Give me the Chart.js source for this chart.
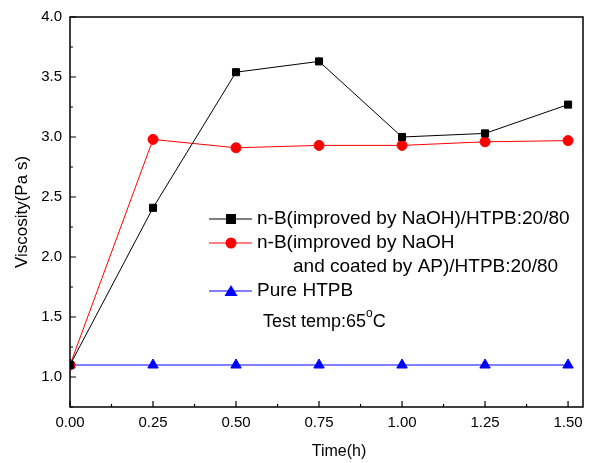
<!DOCTYPE html>
<html>
<head>
<meta charset="utf-8">
<script src="https://cdn.jsdelivr.net/npm/chart.js@4"></script>
<style>
  html, body { margin: 0; padding: 0; background: #fff; }
  #wrap { width: 599px; height: 463px; }
</style>
</head>
<body>
<div id="wrap"><canvas id="chart" width="599" height="463"></canvas></div>
<script>
// values
const timeH = [0, 0.25, 0.5, 0.75, 1.0, 1.25, 1.5];
const nbNaOH = [1.1, 2.41, 3.54, 3.63, 3.0, 3.03, 3.27];
const nbCoated = [1.1, 2.98, 2.91, 2.93, 2.93, 2.96, 2.97];
const pureHTPB = [1.1, 1.1, 1.1, 1.1, 1.1, 1.1, 1.1];
const xTicks = [0, 0.25, 0.5, 0.75, 1.0, 1.25, 1.5];
const yTicks = [1.0, 1.5, 2.0, 2.5, 3.0, 3.5, 4.0];

const FONT = "Arial, 'Liberation Sans', sans-serif";

function pts(ys) {
    return timeH.map((t, i) => ({ x: t, y: ys[i] }));
}

// frame, inward ticks and axis titles
const framePlugin = {
    id: 'frame',
    afterDraw(chart) {
        const ctx = chart.ctx;
        const a = chart.chartArea;
        const xs = chart.scales.x, ys = chart.scales.y;
        ctx.save();
        ctx.strokeStyle = '#000';
        ctx.lineWidth = 1.5;
        ctx.strokeRect(a.left, a.top, a.right - a.left, a.bottom - a.top);
        ctx.lineWidth = 1.2;
        ctx.beginPath();
        for (let v = 0; v <= 1.5001; v += 0.125) {
            const px = xs.getPixelForValue(v);
            const major = Math.abs(v / 0.25 - Math.round(v / 0.25)) < 1e-6;
            const len = major ? 6 : 3;
            ctx.moveTo(px, a.bottom); ctx.lineTo(px, a.bottom - len);
        }
        for (let v = 0.75; v <= 4.0001; v += 0.25) {
            const py = ys.getPixelForValue(v);
            const major = Math.abs(v / 0.5 - Math.round(v / 0.5)) < 1e-6;
            const len = major ? 6 : 3;
            ctx.moveTo(a.left, py); ctx.lineTo(a.left + len, py);
        }
        ctx.stroke();

        // axis titles
        ctx.fillStyle = '#000';
        ctx.textAlign = 'center';
        ctx.textBaseline = 'middle';
        ctx.font = '16px ' + FONT;
        ctx.fillText('Time(h)', 339, 452);
        ctx.translate(22, 212);
        ctx.rotate(-Math.PI / 2);
        ctx.font = '17px ' + FONT;
        ctx.fillText('Viscosity(Pa s)', 0, 0);
        ctx.restore();
    }
};

// legend block drawn inside the plot
const legendPlugin = {
    id: 'insideLegend',
    afterDraw(chart) {
        const ctx = chart.ctx;
        ctx.save();
        ctx.font = '19px ' + FONT;
        ctx.fillStyle = '#000';
        ctx.textBaseline = 'middle';
        const x0 = 209, x1 = 252, tx = 257;
        const rows = [
            { y: 219, color: '#000', shape: 'rect', text: 'n-B(improved by NaOH)/HTPB:20/80' },
            { y: 243, color: '#ff0000', shape: 'circle', text: 'n-B(improved by NaOH' },
            { y: 291, color: '#0000ff', shape: 'triangle', text: 'Pure HTPB' }
        ];
        rows.forEach(r => {
            ctx.strokeStyle = r.color;
            ctx.lineWidth = 1;
            ctx.beginPath();
            ctx.moveTo(x0, r.y); ctx.lineTo(x1, r.y);
            ctx.stroke();
            ctx.fillStyle = r.color;
            const cx = 231;
            ctx.beginPath();
            if (r.shape === 'rect') {
                ctx.rect(cx - 5, r.y - 5, 10, 10);
            } else if (r.shape === 'circle') {
                ctx.arc(cx, r.y, 5.5, 0, Math.PI * 2);
            } else {
                ctx.moveTo(cx, r.y - 6);
                ctx.lineTo(cx + 6.5, r.y + 5);
                ctx.lineTo(cx - 6.5, r.y + 5);
                ctx.closePath();
            }
            ctx.fill();
            ctx.fillStyle = '#000';
            ctx.fillText(r.text, tx, r.y);
        });
        ctx.fillText('and coated by AP)/HTPB:20/80', 293, 267);
        // Test temp:65 oC with superscript
        let x = 263;
        const ty = 322;
        ctx.font = '18px ' + FONT;
        ctx.fillText('Test temp:65', x, ty);
        x += ctx.measureText('Test temp:65').width;
        ctx.font = '12px ' + FONT;
        ctx.fillText('o', x, ty - 8);
        x += ctx.measureText('o').width;
        ctx.font = '18px ' + FONT;
        ctx.fillText('C', x, ty);
        ctx.restore();
    }
};

new Chart(document.getElementById('chart'), {
    type: 'scatter',
    data: {
        datasets: [
            {
                label: 'n-B(improved by NaOH)/HTPB:20/80',
                data: pts(nbNaOH),
                showLine: true,
                borderColor: '#000',
                backgroundColor: '#000',
                borderWidth: 1,
                pointStyle: 'rect',
                pointRadius: 5,
                pointHoverRadius: 5
            },
            {
                label: 'n-B(improved by NaOH and coated by AP)/HTPB:20/80',
                data: pts(nbCoated),
                showLine: true,
                borderColor: '#ff0000',
                backgroundColor: '#ff0000',
                borderWidth: 1,
                pointStyle: 'circle',
                pointRadius: 5,
                pointHoverRadius: 5
            },
            {
                label: 'Pure HTPB',
                data: pts(pureHTPB),
                showLine: true,
                borderColor: '#0000ff',
                backgroundColor: '#0000ff',
                borderWidth: 1,
                pointStyle: 'triangle',
                pointRadius: 6,
                pointHoverRadius: 6
            }
        ]
    },
    options: {
        responsive: false,
        animation: false,
        layout: { padding: { left: 0, right: 16, top: 17, bottom: 0 } },
        plugins: {
            legend: { display: false },
            tooltip: { enabled: false }
        },
        scales: {
            x: {
                type: 'linear',
                min: 0,
                max: 1.545,
                afterBuildTicks(scale) {
                    scale.ticks = xTicks.map(v => ({ value: v }));
                },
                afterFit(scale) { scale.height = 56; },
                grid: { display: false, drawTicks: false },
                border: { display: false },
                ticks: {
                    padding: 7,
                    color: '#000',
                    font: { family: FONT, size: 15 },
                    maxRotation: 0,
                    callback: v => v.toFixed(2)
                }
            },
            y: {
                min: 0.75,
                max: 4.0,
                afterBuildTicks(scale) {
                    scale.ticks = yTicks.map(v => ({ value: v }));
                },
                afterFit(scale) { scale.width = 70; },
                grid: { display: false, drawTicks: false },
                border: { display: false },
                ticks: {
                    padding: 8,
                    color: '#000',
                    font: { family: FONT, size: 15 },
                    callback: v => v.toFixed(1)
                }
            }
        }
    },
    plugins: [framePlugin, legendPlugin]
});
</script>
</body>
</html>
